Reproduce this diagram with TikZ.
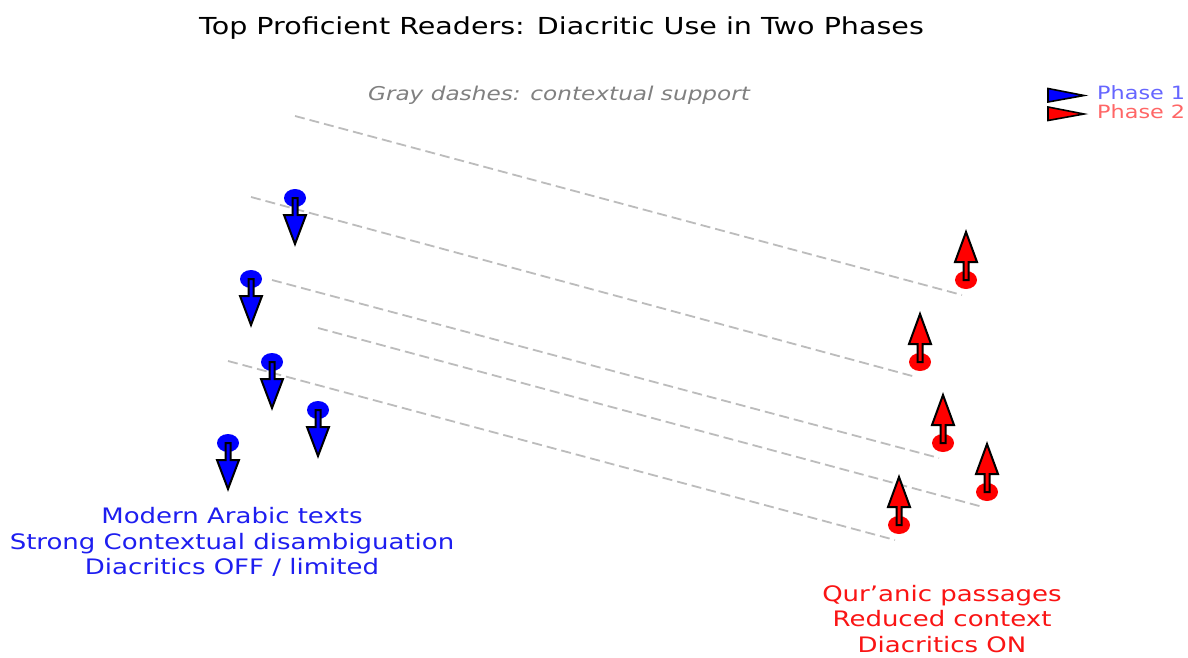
\documentclass[tikz,border=0pt]{standalone}
\usepackage{fontspec}
\setmainfont{DejaVu Sans}[FakeStretch=1.22]
\usetikzlibrary{shapes.geometric,calc,backgrounds}
\definecolor{dashgray}{RGB}{188,188,188}
\definecolor{notegray}{RGB}{128,128,128}
\definecolor{legblue}{RGB}{102,102,255}
\definecolor{legred}{RGB}{255,102,102}
\definecolor{txtblue}{RGB}{30,30,240}
\definecolor{txtred}{RGB}{250,20,20}
\begin{document}
\begin{tikzpicture}[x=1pt,y=-1pt,
  bdot/.style={ellipse, fill=blue, minimum width=22pt, minimum height=18pt, inner sep=0pt},
  rdot/.style={bdot, fill=red},
  support/.style={dashgray, line width=1.8pt, dash pattern=on 10pt off 5pt},
  marker/.style={draw=black, line width=2pt, line join=miter},
  txt/.style={inner sep=0pt},
  downarrow/.pic={\path[pic actions] (-2.5,0) -- (-2.5,17) -- (-11,17) -- (0,46)
      -- (11,17) -- (2.5,17) -- (2.5,0) -- cycle;},
  uparrow/.pic={\path[pic actions] (-2.5,0) -- (-2.5,-18) -- (-11,-18) -- (0,-48)
      -- (11,-18) -- (2.5,-18) -- (2.5,0) -- cycle;},
]
\useasboundingbox (0,0) rectangle (1188,658);

% Phase 1 readers (blue) and Phase 2 readers (red)
\node[bdot] (b1) at (295,198) {};
\node[bdot] (b2) at (251,279) {};
\node[bdot] (b3) at (272,362) {};
\node[bdot] (b4) at (318,410) {};
\node[bdot] (b5) at (228,443) {};
\node[rdot] (r1) at (966,280) {};
\node[rdot] (r2) at (920,362) {};
\node[rdot] (r3) at (943,443) {};
\node[rdot] (r4) at (987,492) {};
\node[rdot] (r5) at (899,525) {};

% ends of the contextual-support lines
\coordinate (s1) at (295,116);  \coordinate (e1) at (962,295);
\coordinate (s2) at (251,197);  \coordinate (e2) at (916,377);
\coordinate (s3) at (272,280);  \coordinate (e3) at (939,458);
\coordinate (s4) at (318,328);  \coordinate (e4) at (983,507);
\coordinate (s5) at (228,361);  \coordinate (e5) at (895,540);

\begin{pgfonlayer}{background}
  \fill[white] (0,0) rectangle (1188,658);
  \draw[support] (s1) -- (e1);
  \draw[support] (s2) -- (e2);
  \draw[support] (s3) -- (e3);
  \draw[support] (s4) -- (e4);
  \draw[support] (s5) -- (e5);
\end{pgfonlayer}

% direction markers
\foreach \i in {1,...,5}{
  \pic[marker, fill=blue] at (b\i) {downarrow};
  \pic[marker, fill=red] at (r\i) {uparrow};
}

% titles
\node[txt, anchor=base, font=\fontsize{23.4}{28}\selectfont] (title) at (561.5,35)
  {Top Proficient Readers: Diacritic Use in Two Phases};
\node[txt, anchor=base, text=notegray, font=\fontsize{19}{23}\selectfont\itshape] (note) at (559,101)
  {Gray dashes: contextual support};

% legend
\path[marker, line width=1.6pt, fill=blue] (1048,88.5) -- (1084,95.5) -- (1048,102) -- cycle;
\path[marker, line width=1.6pt, fill=red] (1048,107) -- (1084,114) -- (1048,120.5) -- cycle;
\node[txt, anchor=base west, text=legblue, font=\fontsize{18.3}{22}\selectfont] (p1) at (1097,100) {Phase 1};
\node[txt, anchor=base west, text=legred, font=\fontsize{18.3}{22}\selectfont] (p2) at (1097,118) {Phase 2};

% phase descriptions
\node[txt, align=center, text=txtblue, font=\fontsize{21.3}{25.7}\selectfont] (modern) at (232,542)
  {Modern Arabic texts\\Strong Contextual disambiguation\\Diacritics OFF / limited};
\node[txt, align=center, text=txtred, font=\fontsize{21.3}{25.7}\selectfont] (quran) at (942,619)
  {Qur’anic passages\\Reduced context\\Diacritics ON};
\end{tikzpicture}
\end{document}
